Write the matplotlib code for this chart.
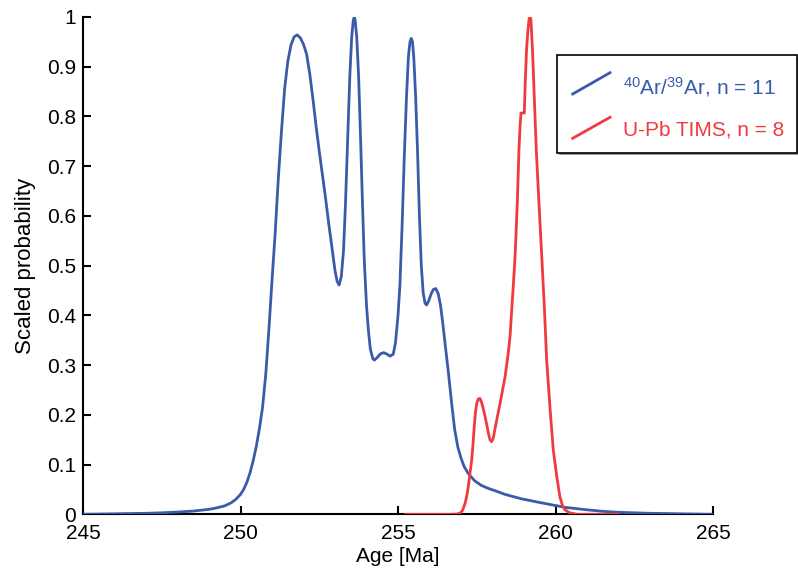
import matplotlib as mpl
mpl.use('Agg')
import matplotlib.pyplot as plt
from matplotlib.patches import Rectangle
from matplotlib.lines import Line2D

plt.rcParams['font.family'] = ['Liberation Sans', 'DejaVu Sans']
plt.rcParams['mathtext.default'] = 'regular'

### DATA ###

# 40Ar/39Ar probability curve
ar_age = [245.0, 245.5, 246.0, 246.5, 247.0, 247.5, 248.0, 248.5, 249.0, 249.25,
          249.5, 249.7, 249.85, 250.0, 250.1, 250.2, 250.3, 250.4, 250.5, 250.6,
          250.7, 250.8, 250.9, 251.0, 251.1, 251.2, 251.3, 251.4, 251.5, 251.6,
          251.7, 251.8, 251.9, 252.0, 252.1, 252.2, 252.3, 252.4, 252.5, 252.6,
          252.7, 252.8, 252.9, 253.0, 253.07, 253.13, 253.2, 253.27, 253.33, 253.4,
          253.47, 253.53, 253.58, 253.61, 253.64, 253.69, 253.75, 253.81, 253.87, 253.93,
          254.0, 254.06, 254.12, 254.2, 254.25, 254.35, 254.45, 254.55, 254.65, 254.75,
          254.85, 254.92, 255.0, 255.06, 255.13, 255.2, 255.27, 255.33, 255.38, 255.42,
          255.46, 255.5, 255.56, 255.62, 255.68, 255.74, 255.8, 255.86, 255.91, 255.98,
          256.05, 256.12, 256.2, 256.28, 256.35, 256.42, 256.5, 256.6, 256.7, 256.8,
          256.9, 257.0, 257.1, 257.23, 257.44, 257.65, 257.87, 258.1, 258.4, 258.93,
          259.56, 260.3, 261.0, 261.5, 262.0, 262.5, 263.0, 263.5, 264.0, 264.5,
          265.0]
ar_prob = [0.000, 0.0005, 0.001, 0.0015, 0.002, 0.003, 0.0045, 0.0065, 0.010, 0.013,
           0.017, 0.023, 0.030, 0.040, 0.050, 0.064, 0.083, 0.107, 0.136, 0.172,
           0.215, 0.280, 0.370, 0.470, 0.565, 0.675, 0.770, 0.855, 0.910, 0.943,
           0.960, 0.964, 0.958, 0.945, 0.925, 0.885, 0.835, 0.780, 0.730, 0.683,
           0.636, 0.585, 0.538, 0.490, 0.468, 0.461, 0.478, 0.530, 0.620, 0.750,
           0.880, 0.960, 0.993, 1.000, 0.993, 0.960, 0.880, 0.760, 0.630, 0.510,
           0.420, 0.370, 0.333, 0.313, 0.310, 0.316, 0.323, 0.325, 0.322, 0.318,
           0.322, 0.345, 0.400, 0.460, 0.580, 0.720, 0.840, 0.920, 0.950, 0.957,
           0.950, 0.920, 0.840, 0.730, 0.600, 0.500, 0.445, 0.424, 0.421, 0.430,
           0.443, 0.452, 0.454, 0.443, 0.420, 0.385, 0.340, 0.285, 0.225, 0.170,
           0.135, 0.113, 0.096, 0.082, 0.067, 0.058, 0.052, 0.047, 0.040, 0.031,
           0.023, 0.014, 0.009, 0.006, 0.004, 0.003, 0.002, 0.0015, 0.001, 0.0005,
           0.000]

# U-Pb TIMS probability curve
upb_age = [255.24, 256.7, 256.85, 256.97, 257.05, 257.13, 257.18, 257.23, 257.28, 257.34,
           257.38, 257.42, 257.46, 257.5, 257.55, 257.6, 257.65, 257.7, 257.76, 257.82,
           257.87, 257.92, 257.97, 258.02, 258.08, 258.16, 258.24, 258.32, 258.4, 258.5,
           258.56, 258.61, 258.66, 258.71, 258.74, 258.79, 258.84, 258.875, 258.905, 259.01,
           259.04, 259.08, 259.12, 259.16, 259.19, 259.22, 259.27, 259.33, 259.39, 259.47,
           259.57, 259.65, 259.72, 259.83, 259.93, 260.04, 260.14, 260.22, 260.3, 260.45,
           260.7, 262.0]
upb_prob = [0.000, 0.000, 0.0005, 0.002, 0.008, 0.022, 0.036, 0.055, 0.080, 0.109,
            0.140, 0.176, 0.205, 0.223, 0.232, 0.233, 0.226, 0.214, 0.198, 0.179,
            0.163, 0.150, 0.146, 0.152, 0.172, 0.198, 0.223, 0.250, 0.277, 0.324,
            0.360, 0.411, 0.460, 0.511, 0.552, 0.632, 0.733, 0.780, 0.807, 0.807,
            0.870, 0.933, 0.970, 0.995, 1.000, 0.995, 0.933, 0.833, 0.732, 0.632,
            0.511, 0.411, 0.310, 0.210, 0.129, 0.076, 0.035, 0.018, 0.009, 0.003,
            0.000, 0.000]

x_ticks = [245, 250, 255, 260, 265]
y_ticks = [0, 0.1, 0.2, 0.3, 0.4, 0.5, 0.6, 0.7, 0.8, 0.9, 1]
y_labels = ['0', '0.1', '0.2', '0.3', '0.4', '0.5', '0.6', '0.7', '0.8', '0.9', '1']

blue = '#3a5ba9'
red = '#ef3a3f'

### PLOT ###
W, H = 798, 576
fig = plt.figure(figsize=(W / 100, H / 100), dpi=100)
ax = fig.add_axes([83 / W, 1 - 514.3 / H, (713 - 83) / W, (514.3 - 17) / H])

ax.plot(ar_age, ar_prob, color=blue, lw=2, solid_joinstyle='round', zorder=3)
ax.plot(upb_age, upb_prob, color=red, lw=2, solid_joinstyle='round', zorder=4)

ax.set_xlim(245, 265)
ax.set_ylim(0, 1)
ax.set_xticks(x_ticks)
ax.set_yticks(y_ticks)
ax.set_yticklabels(y_labels)
ax.tick_params(direction='in', length=6, width=1.5, labelsize=15)
ax.tick_params(axis='y', pad=5)
ax.tick_params(axis='x', pad=7)
ax.spines['top'].set_visible(False)
ax.spines['right'].set_visible(False)
ax.spines['left'].set_linewidth(1.5)
ax.spines['bottom'].set_linewidth(1.5)
ax.set_xlabel('Age [Ma]', fontsize=15, labelpad=3)
ax.set_ylabel('Scaled probability', fontsize=16, labelpad=8)

# legend box drawn in figure pixels (it hangs past the axes edge)
def fx(px):
    return px / W

def fy(py):
    return 1 - py / H

fig.patches.append(Rectangle((fx(559), fy(155)), fx(240), fy(55) - fy(153),
                             transform=fig.transFigure, facecolor='#9a9a9a',
                             edgecolor='none', zorder=5))
fig.patches.append(Rectangle((fx(557), fy(153)), fx(240), fy(55) - fy(153),
                             transform=fig.transFigure, facecolor='white',
                             edgecolor='black', lw=1.2, zorder=6))
fig.lines.append(Line2D([fx(572.7), fx(610)], [fy(94), fy(72.7)],
                        transform=fig.transFigure, color=blue, lw=2, zorder=7))
fig.lines.append(Line2D([fx(572.7), fx(610)], [fy(138.3), fy(117.3)],
                        transform=fig.transFigure, color=red, lw=2, zorder=7))
fig.text(fx(623), fy(87), r'$^{40}$Ar/$^{39}$Ar, n = 11', color=blue,
         fontsize=15, va='center', ha='left', zorder=8)
fig.text(fx(623), fy(130), 'U-Pb TIMS, n = 8', color=red,
         fontsize=15, va='center', ha='left', zorder=8)

plt.savefig('out.png', dpi=100)
